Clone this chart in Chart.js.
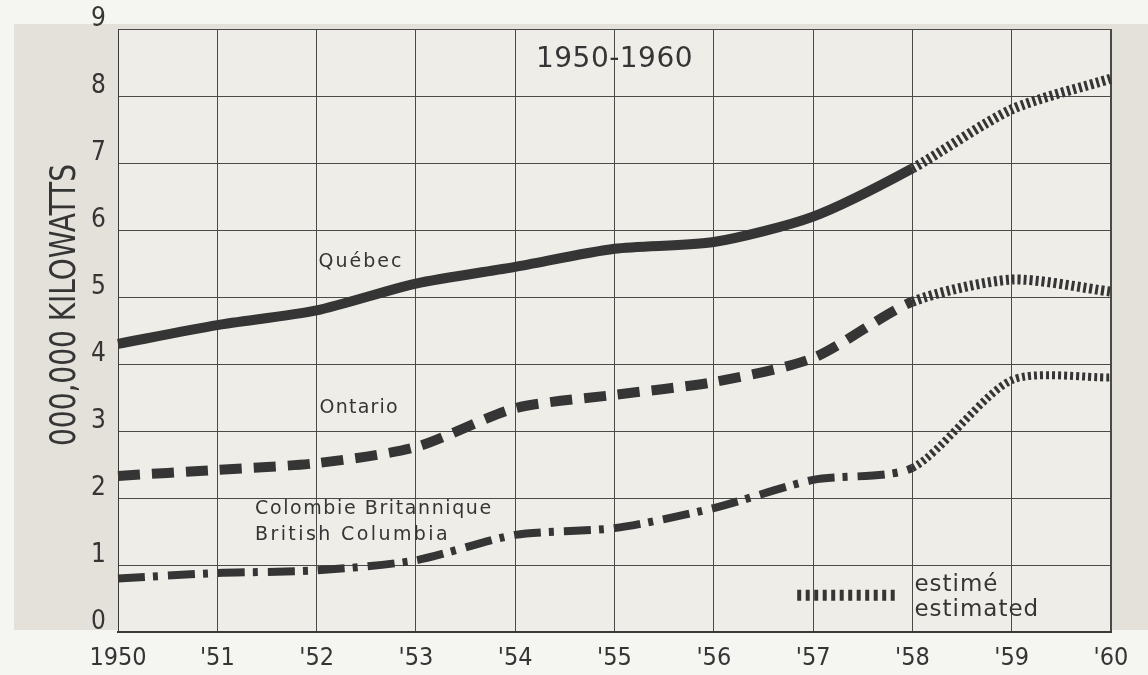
<!DOCTYPE html>
<html>
<head>
<meta charset="utf-8">
<script src="https://cdn.jsdelivr.net/npm/chart.js"></script>
<style>
  body { margin: 0; background: #f5f5f1; }
</style>
</head>
<body>
<canvas id="power-chart" width="1148" height="675"></canvas>
<script>
var years = ['1950', "'51", "'52", "'53", "'54", "'55", "'56", "'57", "'58", "'59", "'60"];
var quebec = [4.3, 4.58, 4.8, 5.2, 5.45, 5.72, 5.82, 6.2, 6.92, 7.8, 8.26];
var ontario = [2.33, 2.42, 2.52, 2.76, 3.34, 3.54, 3.73, 4.09, 4.93, 5.26, 5.08];
var britishColumbia = [0.8, 0.88, 0.92, 1.07, 1.45, 1.55, 1.85, 2.27, 2.45, 3.76, 3.8];
var firstEstimate = 8; // from '58 on the values are estimates

var ink = '#353535';
var narrow = '"Liberation Sans Narrow", "DejaVu Sans Condensed", sans-serif';
var hatch = [3, 3];

function estimateDash(dash) {
  return function(ctx) {
    return ctx.p0DataIndex >= firstEstimate ? hatch : dash;
  };
}

var backdrop = {
  id: 'backdrop',
  beforeDraw: function(chart) {
    var ctx = chart.ctx, a = chart.chartArea;
    ctx.save();
    ctx.fillStyle = '#f5f5f1';
    ctx.fillRect(0, 0, chart.width, chart.height);
    ctx.fillStyle = '#e3e1d9';
    ctx.fillRect(14, 24, chart.width - 14, 606);
    ctx.fillStyle = '#eeede8';
    ctx.fillRect(a.left, a.top, a.right - a.left, a.bottom - a.top);
    ctx.restore();
  }
};

var notes = {
  id: 'notes',
  afterDraw: function(chart) {
    var ctx = chart.ctx;
    var x = chart.scales.x, y = chart.scales.y;
    function put(text, i, v, size, spacing, align) {
      ctx.font = size + 'px "DejaVu Sans", sans-serif';
      ctx.letterSpacing = spacing + 'px';
      ctx.textAlign = align || 'left';
      ctx.fillText(text, x.getPixelForValue(i), y.getPixelForValue(v));
    }
    ctx.save();
    ctx.fillStyle = ink;
    ctx.textBaseline = 'middle';
    put('1950-1960', 5.0, 8.54, 28, 0.5, 'center');
    put('Québec', 2.02, 5.52, 19, 2);
    put('Ontario', 2.03, 3.34, 19, 1.2);
    put('Colombie Britannique', 1.38, 1.84, 19, 1.6);
    put('British Columbia', 1.38, 1.45, 19, 2.4);
    put('estimé', 8.02, 0.7, 23, 1);
    put('estimated', 8.02, 0.33, 23, 1);

    // legend sample for the estimated stretch
    ctx.strokeStyle = ink;
    ctx.lineWidth = 11;
    ctx.setLineDash([4, 4.5]);
    ctx.beginPath();
    ctx.moveTo(x.getPixelForValue(6.84), y.getPixelForValue(0.55));
    ctx.lineTo(x.getPixelForValue(7.86), y.getPixelForValue(0.55));
    ctx.stroke();
    ctx.setLineDash([]);

    // y axis title
    ctx.letterSpacing = '0px';
    ctx.font = '36px ' + narrow;
    ctx.textAlign = 'center';
    ctx.translate(66, 305);
    ctx.rotate(-Math.PI / 2);
    ctx.fillText('000,000 KILOWATTS', 0, 0, 282);
    ctx.restore();
  }
};

var ctx = document.getElementById('power-chart');
new Chart(ctx, {
  type: 'line',
  data: {
    labels: years,
    datasets: [{
      label: 'Québec',
      data: quebec,
      borderWidth: 10,
      segment: { borderDash: estimateDash([]) }
    }, {
      label: 'Ontario',
      data: ontario,
      borderWidth: 10,
      segment: { borderDash: estimateDash([22, 12]) }
    }, {
      label: 'British Columbia',
      data: britishColumbia,
      borderWidth: 8,
      segment: { borderDash: estimateDash([27, 8, 5, 10]) }
    }]
  },
  options: {
    responsive: false,
    animation: false,
    borderColor: ink,
    elements: {
      line: { borderColor: ink, tension: 0.25, borderCapStyle: 'butt', fill: false },
      point: { radius: 0 }
    },
    layout: { padding: { top: 29, right: 37, left: 0, bottom: 0 } },
    plugins: {
      legend: { display: false },
      tooltip: { enabled: false }
    },
    scales: {
      x: {
        afterFit: function(s) { s.height = 43; },
        grid: {
          color: '#4a4a4a',
          lineWidth: function(c) { return c.index === years.length - 1 ? 2 : 1; },
          drawTicks: false
        },
        border: { color: '#3a3a3a', width: 2 },
        ticks: {
          color: ink,
          padding: 11,
          maxRotation: 0,
          autoSkip: false,
          font: { family: narrow, size: 25 }
        }
      },
      y: {
        min: 0,
        max: 9,
        afterFit: function(s) { s.width = 118; },
        grid: { color: '#4a4a4a', lineWidth: 1, drawTicks: false },
        border: { color: '#3a3a3a', width: 1 },
        ticks: {
          stepSize: 1,
          color: ink,
          padding: 12,
          labelOffset: -10,
          font: { family: narrow, size: 26 }
        }
      }
    }
  },
  plugins: [backdrop, notes]
});
</script>
</body>
</html>
